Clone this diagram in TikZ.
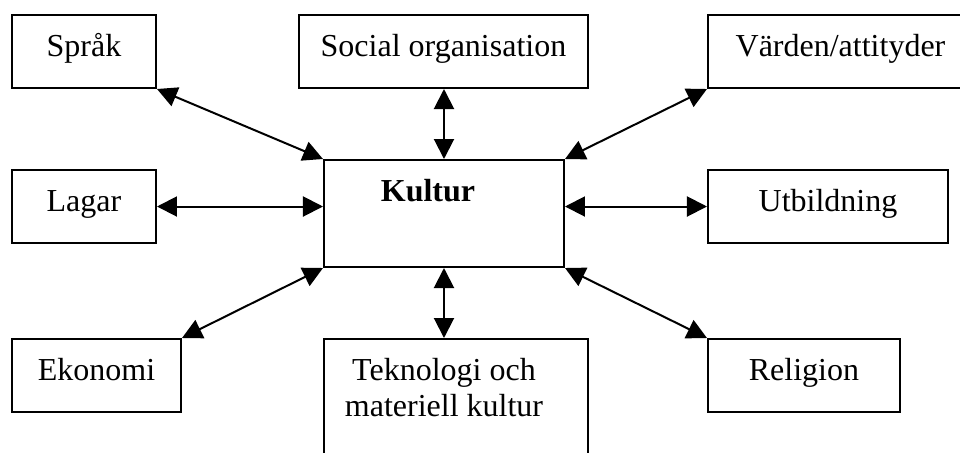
\documentclass[tikz,border=0pt]{standalone}
\usepackage{fontspec}
\setmainfont{Liberation Serif}
\usetikzlibrary{arrows.meta}

\begin{document}
\begin{tikzpicture}[x=0.375pt,y=-0.375pt,
  box/.style={draw,line width=0.75pt,inner sep=0pt,anchor=north west,
    text height=15.375pt,text depth=12pt,font=\fontsize{12pt}{13.8pt}\selectfont},
  link/.style={line width=0.75pt,{Triangle[length=7.5pt,width=7.5pt]}-{Triangle[length=7.5pt,width=7.5pt]}}]
  \useasboundingbox (0,0) rectangle (960,452);
  \clip (0,0) rectangle (960,452);
  \node[box,minimum width=54pt] (sprak) at (11,14) {Språk};
  \node[box,minimum width=108.375pt] (social) at (298,14) {Social organisation};
  \node[box,minimum width=99.375pt] (varden) at (707,14) {Värden/attityder};
  \node[box,minimum width=54pt] (lagar) at (11,169) {Lagar};
  \node[box,minimum width=90pt,text depth=24.75pt] (kultur) at (323,159) {\textbf{Kultur}\hspace*{12pt}};
  \node[box,minimum width=90pt] (utbildning) at (707,169) {Utbildning};
  \node[box,minimum width=63.375pt] (ekonomi) at (11,338) {Ekonomi};
  \node[box,minimum width=99pt,text depth=34.125pt] (teknologi) at (323,338)
    {\begin{tabular}[t]{@{}c@{}}Teknologi och\\materiell kultur\end{tabular}\hspace*{9pt}};
  \node[box,minimum width=72pt] (religion) at (707,338) {Religion};
  \draw[link] (sprak.south east) -- (kultur.north west);
  \draw[link] (kultur.north |- social.south) -- (kultur.north);
  \draw[link] (kultur.north east) -- (varden.south west);
  \draw[link] (lagar.east) -- (lagar.east -| kultur.west);
  \draw[link] (kultur.east |- utbildning.west) -- (utbildning.west);
  \draw[link] (kultur.south west) -- (ekonomi.north east);
  \draw[link] (kultur.south) -- (kultur.south |- teknologi.north);
  \draw[link] (kultur.south east) -- (religion.north west);
\end{tikzpicture}
\end{document}
